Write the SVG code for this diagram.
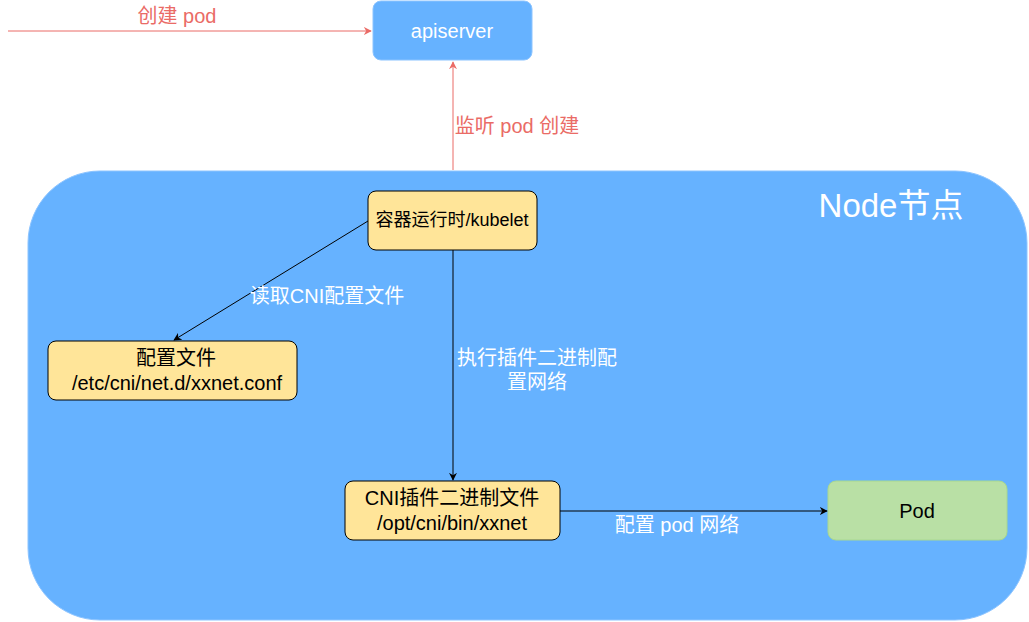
<svg xmlns="http://www.w3.org/2000/svg" width="1029" height="622" viewBox="0 0 1029 622">
<defs>
<style>
text{font-family:"Liberation Sans","Noto Sans CJK SC",sans-serif;}
.box{fill:#FFE599;stroke:#000;stroke-width:1;}
.t{font-size:20px;fill:#000;text-anchor:middle;}
.w{font-size:20px;fill:#fff;text-anchor:middle;}
.r{font-size:20px;fill:#EA6B66;text-anchor:middle;}
.blk{stroke:#000;stroke-width:1;fill:none;}
.red{stroke:#EA6B66;stroke-width:1;fill:none;}
</style>
<marker id="ab" viewBox="0 0 10 10" refX="9" refY="5" markerWidth="8" markerHeight="8" markerUnits="userSpaceOnUse" orient="auto"><path d="M0,0 L10,5 L0,10 L3,5 Z" fill="#000"/></marker>
<marker id="ar" viewBox="0 0 10 10" refX="9" refY="5" markerWidth="8" markerHeight="8" markerUnits="userSpaceOnUse" orient="auto"><path d="M0,0 L10,5 L0,10 L3,5 Z" fill="#EA6B66"/></marker>
</defs>
<g id="node-container">
<rect x="28" y="171" width="999" height="449" rx="72" fill="#66B2FF" stroke="#8CC4FF"/>
<text x="891" y="217" style="font-size:33px;fill:#fff;text-anchor:middle">Node节点</text>
</g>
<g id="apiserver">
<rect x="373" y="1" width="159" height="59" rx="8" fill="#66B2FF" stroke="#8CC4FF"/>
<text x="452" y="38" class="w">apiserver</text>
</g>
<g id="kubelet">
<rect class="box" x="368" y="191" width="169" height="59" rx="8"/>
<text x="452" y="226" class="t" style="font-size:18px">容器运行时/kubelet</text>
</g>
<g id="config">
<rect class="box" x="48" y="341" width="249" height="59" rx="8"/>
<text x="176" y="365" class="t">配置文件</text>
<text x="177" y="390" class="t">/etc/cni/net.d/xxnet.conf</text>
</g>
<g id="cni">
<rect class="box" x="345" y="481" width="215" height="59" rx="8"/>
<text x="452" y="505" class="t">CNI插件二进制文件</text>
<text x="452" y="530" class="t">/opt/cni/bin/xxnet</text>
</g>
<g id="pod">
<rect x="828" y="481" width="179" height="59" rx="8" fill="#B9E0A5" stroke="#A8D890"/>
<text x="917" y="518" class="t">Pod</text>
</g>
<g id="connectors">
<line class="red" x1="8" y1="31" x2="371" y2="31" marker-end="url(#ar)"/>
<text x="177" y="23" class="r">创建 pod</text>
<line class="red" x1="453" y1="170" x2="453" y2="62" marker-end="url(#ar)"/>
<text x="517" y="133" class="r">监听 pod 创建</text>
<line class="blk" x1="368" y1="221" x2="174" y2="340" marker-end="url(#ab)"/>
<text x="327" y="303" class="w">读取CNI配置文件</text>
<line class="blk" x1="453" y1="250" x2="453" y2="480" marker-end="url(#ab)"/>
<text x="537" y="365" class="w">执行插件二进制配</text>
<text x="537" y="389" class="w">置网络</text>
<line class="blk" x1="560" y1="511" x2="827" y2="511" marker-end="url(#ab)"/>
<text x="677" y="532" class="w">配置 pod 网络</text>
</g>
</svg>
